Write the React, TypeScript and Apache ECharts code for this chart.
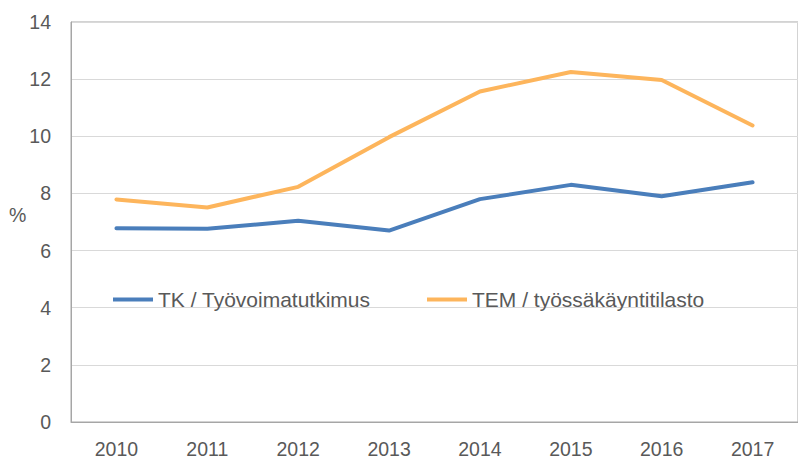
import React, { useEffect, useRef } from "react";
import * as echarts from "echarts";

const categories = ["2010", "2011", "2012", "2013", "2014", "2015", "2016", "2017"];
const tkValues = [6.78, 6.76, 7.04, 6.7, 7.8, 8.3, 7.9, 8.39];
const temValues = [7.79, 7.51, 8.23, 9.97, 11.57, 12.25, 11.97, 10.38];
const tkName = "TK / Työvoimatutkimus";
const temName = "TEM / työssäkäyntitilasto";
const yUnit = "%";

const FONT = "'Liberation Sans', Arial, sans-serif";
const TEXT = "#595959";

export default function App() {
  const ref = useRef<HTMLDivElement>(null);
  useEffect(() => {
    document.body.style.margin = "0";
    if (!ref.current) return;
    const chart = echarts.init(ref.current, null, { renderer: "svg" });
    chart.setOption({
      animation: false,
      backgroundColor: "#ffffff",
      textStyle: { fontFamily: FONT },
      grid: {
        left: 71,
        top: 22,
        width: 733,
        bottom: 35,
        show: true,
        borderColor: "#a6a6a6",
        borderWidth: 1,
      },
      legend: [
        {
          left: 108,
          top: 284,
          data: [{ name: tkName, icon: "rect" }],
          itemWidth: 40,
          itemHeight: 4,
          textStyle: { color: TEXT, fontSize: 21, fontFamily: FONT },
        },
        {
          left: 422,
          top: 284,
          data: [{ name: temName, icon: "rect" }],
          itemWidth: 40,
          itemHeight: 4,
          textStyle: { color: TEXT, fontSize: 21, fontFamily: FONT },
        },
      ],
      xAxis: {
        type: "category",
        data: categories,
        boundaryGap: true,
        axisLine: { show: true, lineStyle: { color: "#a6a6a6", width: 1 } },
        axisTick: { show: false },
        axisLabel: { color: TEXT, fontSize: 19.5, margin: 17, fontFamily: FONT },
      },
      yAxis: {
        type: "value",
        min: 0,
        max: 14,
        interval: 2,
        axisLine: { show: true, lineStyle: { color: "#a6a6a6" } },
        axisTick: { show: false },
        axisLabel: { color: TEXT, fontSize: 19.5, margin: 20, fontFamily: FONT },
        splitLine: { lineStyle: { color: "#d9d9d9", width: 1 } },
      },
      graphic: [
        {
          type: "text",
          left: 9,
          top: 205,
          style: { text: yUnit, fill: TEXT, fontSize: 19.5, fontFamily: FONT },
        },
      ],
      series: [
        {
          name: tkName,
          type: "line",
          data: tkValues,
          symbol: "none",
          color: "#4a7ebb",
          lineStyle: { width: 4, color: "#4a7ebb", cap: "round", join: "round" },
        },
        {
          name: temName,
          type: "line",
          data: temValues,
          symbol: "none",
          color: "#fdb55c",
          lineStyle: { width: 4, color: "#fdb55c", cap: "round", join: "round" },
        },
      ],
    });
    return () => chart.dispose();
  }, []);
  return <div ref={ref} style={{ width: 798, height: 459 }} />;
}
